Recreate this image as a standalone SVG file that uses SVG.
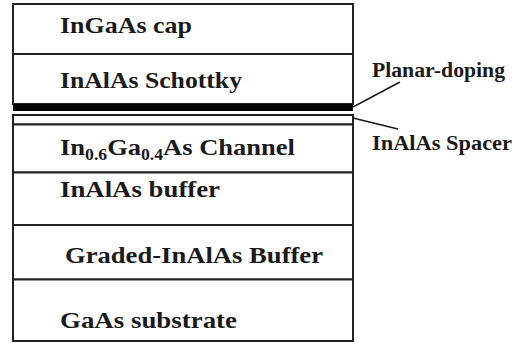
<svg xmlns="http://www.w3.org/2000/svg" width="519" height="343" viewBox="0 0 519 343">
<style>
.layer{fill:#fff;stroke:#222;stroke-width:2}
.t{font-family:'Liberation Serif','DejaVu Serif',serif;font-weight:700;font-size:24px;fill:#1a1a1a}
.lbl{font-family:'Liberation Serif','DejaVu Serif',serif;font-weight:700;font-size:20px;fill:#1a1a1a}
.sub{font-size:16px}
.lead{stroke:#1a1a1a;stroke-width:1.5;fill:none}
</style>
<rect width="519" height="343" fill="#fff"/>
<g id="cap">
<rect class="layer" x="13" y="4" width="340" height="50"/>
<text class="t" x="60" y="33" textLength="132" lengthAdjust="spacingAndGlyphs">InGaAs cap</text>
</g>
<g id="schottky">
<rect class="layer" x="13" y="54" width="340" height="50"/>
<text class="t" x="60" y="88" textLength="182" lengthAdjust="spacingAndGlyphs">InAlAs Schottky</text>
</g>
<g id="planar-doping">
<rect x="13" y="104" width="340" height="7" fill="#000"/>
</g>
<g id="spacer">
<rect class="layer" x="13" y="115" width="340" height="9.5"/>
</g>
<g id="channel">
<rect class="layer" x="13" y="124.5" width="340" height="48"/>
<text class="t" x="60" y="155" textLength="235" lengthAdjust="spacingAndGlyphs">In<tspan class="sub" dy="5">0.6</tspan><tspan dy="-5">Ga</tspan><tspan class="sub" dy="5">0.4</tspan><tspan dy="-5">As Channel</tspan></text>
</g>
<g id="buffer">
<rect class="layer" x="13" y="172.5" width="340" height="52.5"/>
<text class="t" x="60" y="197" textLength="160" lengthAdjust="spacingAndGlyphs">InAlAs buffer</text>
</g>
<g id="graded-buffer">
<rect class="layer" x="13" y="225" width="340" height="54.5"/>
<text class="t" x="65" y="263" textLength="258" lengthAdjust="spacingAndGlyphs">Graded-InAlAs Buffer</text>
</g>
<g id="substrate">
<rect class="layer" x="13" y="279.5" width="340" height="61.5"/>
<text class="t" x="60" y="328" textLength="177" lengthAdjust="spacingAndGlyphs">GaAs substrate</text>
</g>
<g id="connectors">
<line class="lead" x1="353" y1="107" x2="400" y2="82"/>
<line class="lead" x1="353" y1="118" x2="398" y2="129"/>
</g>
<g id="label-planar">
<text class="lbl" x="372" y="77" textLength="133" lengthAdjust="spacingAndGlyphs">Planar-doping</text>
</g>
<g id="label-spacer">
<text class="lbl" x="372" y="150" textLength="140" lengthAdjust="spacingAndGlyphs">InAlAs  Spacer</text>
</g>
</svg>
